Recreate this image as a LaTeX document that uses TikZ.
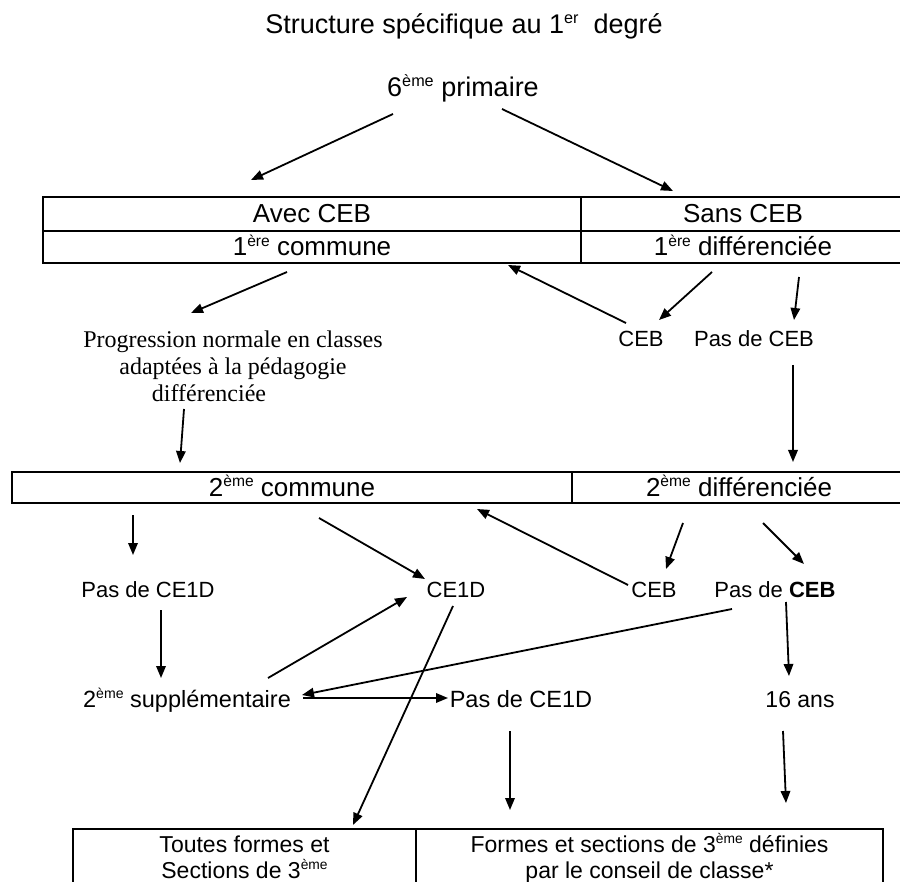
\documentclass[tikz,border=0pt]{standalone}
\usepackage{fontspec}
\setmainfont{Liberation Sans}
\newfontfamily\timesfont{Liberation Serif}
\usetikzlibrary{arrows.meta,positioning}
\newcommand\supr[1]{\raisebox{0.38em}{\scalebox{0.6}{#1}}}

\begin{document}
\begin{tikzpicture}[x=1pt,y=-1pt]
\tikzstyle{cell}=[draw,line width=1.3pt,inner sep=0pt,outer sep=0pt,text height=18pt,text depth=0pt,font=\fontsize{26}{30}\selectfont]
\tikzstyle{cellt}=[draw,line width=1.3pt,inner xsep=0pt,inner ysep=6pt,outer sep=0pt,align=center,text height=43pt,text depth=20pt,font=\fontsize{23}{26}\selectfont]
\tikzstyle{lbl}=[anchor=base,inner sep=0pt,font=\fontsize{22}{26}\selectfont]
\tikzstyle{lblb}=[lbl,font=\fontsize{23.5}{28}\selectfont]
\tikzstyle{arr}=[line width=1.8pt,-{Triangle[length=12pt,width=9.5pt]}]
\path[use as bounding box,fill=white] (0,0) rectangle (900,882);
\clip (0,0) rectangle (900,882);
\node[lbl,font=\fontsize{27}{31}\selectfont] (titre) at (464,34) {Structure spécifique au 1\supr{er}\ \ degré};
\node[lbl,font=\fontsize{27}{31}\selectfont] (prim) at (463,97) {6\supr{ème} primaire};
\node[cell,minimum width=538pt,minimum height=34pt] (avec) at (312,214) {Avec CEB};
\node[cell,minimum width=324pt,minimum height=34pt,right=0pt of avec] (sans) {Sans CEB};
\node[cell,minimum width=538pt,minimum height=32pt,below=0pt of avec] (commune) {1\supr{ère} commune};
\node[cell,minimum width=324pt,minimum height=32pt,right=0pt of commune] (diff) {1\supr{ère} différenciée};
\node[lbl,align=center,font=\timesfont\fontsize{24}{27}\selectfont] (prog) at (233,402) {Progression normale en classes\\adaptées à la pédagogie\\différenciée\hspace*{48pt}};
\node[lbl] (ceb1) at (641,347) {CEB};
\node[lbl] (pasceb1) at (754,347) {Pas de CEB};
\node[cell,minimum width=560pt,minimum height=31pt] (comm2) at (292,487.5) {2\supr{ème} commune};
\node[cell,minimum width=334pt,minimum height=31pt,right=0pt of comm2] (diff2) {2\supr{ème} différenciée};
\node[lbl] (pasce1d) at (148,597) {Pas de CE1D};
\node[lbl] (ce1d) at (456,597) {CE1D};
\node[lbl] (ceb2) at (654,597) {CEB};
\node[lbl] (pasceb2) at (775,597) {Pas de \textbf{CEB}};
\node[lblb] (supp) at (187,707) {2\supr{ème} supplémentaire};
\node[lblb] (pasce1d2) at (521,707) {Pas de CE1D};
\node[lblb,font=\fontsize{23}{27}\selectfont] (ans) at (800,707) {16 ans};
\node[cellt,minimum width=343pt,anchor=north] (toutes) at (244.5,829) {Toutes formes et\\Sections de 3\supr{ème}};
\node[cellt,minimum width=467pt,right=0pt of toutes] (formes) {Formes et sections de 3\supr{ème} définies\\par le conseil de classe*};
\draw[arr] ([shift={(-70,17)}]prim.base) -- ([shift={(-61,-17)}]avec.north);
\draw[arr] ([shift={(39,12)}]prim.base) -- ([shift={(-70,-6)}]sans.north);
\draw[arr] ([shift={(-25,9)}]commune.south) -- ([shift={(-42,-89)}]prog.base);
\draw[arr] ([shift={(-15,-24)}]ceb1.base) -- ([shift={(196,2)}]commune.south);
\draw[arr] ([shift={(-31,9)}]diff.south) -- ([shift={(18,-27)}]ceb1.base);
\draw[arr] ([shift={(56,14)}]diff.south) -- ([shift={(40,-27)}]pasceb1.base);
\draw[arr] ([shift={(-49,7)}]prog.base) -- ([shift={(-112,-9)}]comm2.north);
\draw[arr] ([shift={(39,18)}]pasceb1.base) -- ([shift={(54,-10)}]diff2.north);
\draw[arr] ([shift={(-159,12)}]comm2.south) -- ([shift={(-15,-42)}]pasce1d.base);
\draw[arr] ([shift={(27,15)}]comm2.south) -- ([shift={(-31,-18)}]ce1d.base);
\draw[arr] ([shift={(-26,-12)}]ceb2.base) -- ([shift={(185,6)}]comm2.south);
\draw[arr] ([shift={(-56,20)}]diff2.south) -- ([shift={(12,-28)}]ceb2.base);
\draw[arr] ([shift={(24,20)}]diff2.south) -- ([shift={(29,-33)}]pasceb2.base);
\draw[arr] ([shift={(13,13)}]pasce1d.base) -- ([shift={(-26,-29)}]supp.base);
\draw[arr] ([shift={(81,-29)}]supp.base) -- ([shift={(-49,0)}]ce1d.base);
\draw[arr] ([shift={(-3,9)}]ce1d.base) -- ([shift={(108.5,-4)}]toutes.north);
\draw[arr] ([shift={(-43,12)}]pasceb2.base) -- ([shift={(115,-12)}]supp.base);
\draw[arr] ([shift={(116,-9)}]supp.base) -- ([shift={(-73,-9)}]pasce1d2.base);
\draw[arr] ([shift={(11,5)}]pasceb2.base) -- ([shift={(-11,-31)}]ans.base);
\draw[arr] ([shift={(-11,24)}]pasce1d2.base) -- ([shift={(-139.5,-19)}]formes.north);
\draw[arr] ([shift={(-17,24)}]ans.base) -- ([shift={(136.5,-26)}]formes.north);
\end{tikzpicture}
\end{document}
